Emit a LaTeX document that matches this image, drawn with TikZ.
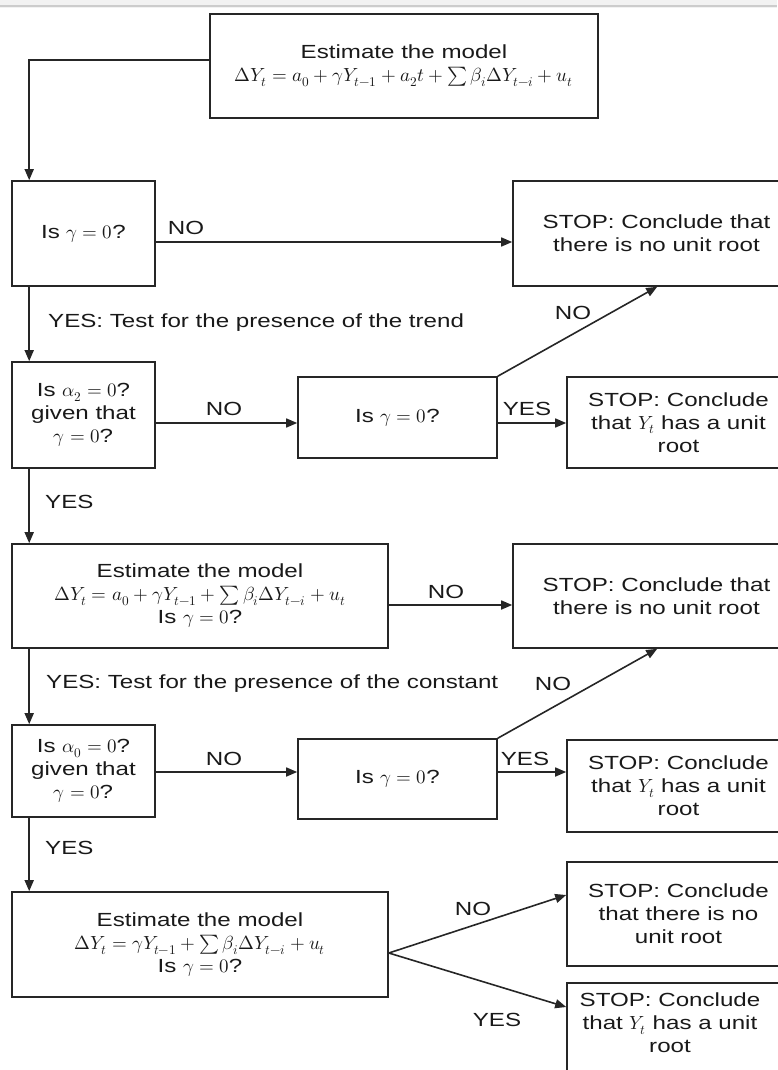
\documentclass[tikz,border=0pt]{standalone}
\usepackage{unicode-math}
\setmainfont{Liberation Sans}[FakeStretch=1.27]
\setmathfont{Latin Modern Math}
\usetikzlibrary{arrows.meta,calc}
\newcommand\dfs{\fontsize{19}{23}\selectfont}
\begin{document}
\begin{tikzpicture}[x=1pt,y=-1pt,
  box/.style={draw=black!85, line width=1.6pt, align=center, inner sep=0pt, font=\dfs, text=black!90},
  arr/.style={line width=1.6pt, draw=black!85, -{Triangle[length=11pt,width=9pt]}},
  lbl/.style={font=\dfs, inner sep=0pt, text=black!90}]
\useasboundingbox (0,0) rectangle (777,1070);
\fill[black!5] (0,0) rectangle (777,8);
\draw[black!20, line width=1.5pt] (0,6) -- (777,6);

% boxes
\node[box, minimum width=388pt, minimum height=104pt] (top) at (404,66)
  {Estimate the model\\ $\Delta Y_t= a_0+\gamma Y_{t-1}+a_2t+\textstyle\sum\beta_i\Delta Y_{t-i}+u_t$};
\node[box, minimum width=143pt, minimum height=105pt] (b1) at (83.5,233.5) {Is $\gamma=0$?};
\node[box, minimum width=287pt, minimum height=105pt] (r1) at (656.5,233.5)
  {STOP: Conclude that\\ there is no unit root};
\node[box, minimum width=143pt, minimum height=106pt] (b2) at (83.5,415)
  {Is $\alpha_2=0$?\\ given that\\ $\gamma=0$?};
\node[box, minimum width=199pt, minimum height=81pt] (m1) at (397.5,417.5) {Is $\gamma=0$?};
\node[box, minimum width=223pt, minimum height=91pt] (r2) at (678.5,422.5)
  {STOP: Conclude\\ that $Y_t$ has a unit\\ root};
\node[box, minimum width=376pt, minimum height=104pt] (b3) at (200,596)
  {Estimate the model\\ $\Delta Y_t= a_0+\gamma Y_{t-1}+\textstyle\sum\beta_i\Delta Y_{t-i}+u_t$\\ Is $\gamma=0$?};
\node[box, minimum width=287pt, minimum height=104pt] (r3) at (656.5,596)
  {STOP: Conclude that\\ there is no unit root};
\node[box, minimum width=143pt, minimum height=92pt] (b4) at (83.5,771)
  {Is $\alpha_0=0$?\\ given that\\ $\gamma=0$?};
\node[box, minimum width=199pt, minimum height=80pt] (m2) at (397.5,779) {Is $\gamma=0$?};
\node[box, minimum width=223pt, minimum height=92pt] (r4) at (678.5,786)
  {STOP: Conclude\\ that $Y_t$ has a unit\\ root};
\node[box, minimum width=376pt, minimum height=105pt] (b5) at (200,944.5)
  {Estimate the model\\ $\Delta Y_t= \gamma Y_{t-1}+\textstyle\sum\beta_i\Delta Y_{t-i}+u_t$\\ Is $\gamma=0$?};
\node[box, minimum width=223pt, minimum height=104pt] (r5) at (678.5,914)
  {STOP: Conclude\\ that there is no\\ unit root};
\node[box, minimum width=223pt, minimum height=117pt] (r6) at (678.5,1041.5) {};
\node[lbl, align=center] (r6t) at (670,1023) {STOP: Conclude\\ that $Y_t$ has a unit\\ root};

% spine
\draw[arr] ([yshift=6pt]top.west) -| ([xshift=18pt]b1.north west);
\draw[arr] ([xshift=18pt]b1.south west) -- ([xshift=18pt]b2.north west);
\draw[arr] ([xshift=18pt]b2.south west) -- ([xshift=18pt]b3.north west);
\draw[arr] ([xshift=18pt]b3.south west) -- ([xshift=18pt]b4.north west);
\draw[arr] ([xshift=18pt]b4.south west) -- ([xshift=18pt]b5.north west);

% horizontal
\draw[arr] (b1.east |- 0,242) -- (r1.west |- 0,242);
\draw[arr] (b2.east |- 0,423) -- (m1.west |- 0,423);
\draw[arr] (m1.east |- 0,423) -- (r2.west |- 0,423);
\draw[arr] (b3.east |- 0,605) -- (r3.west |- 0,605);
\draw[arr] (b4.east |- 0,772) -- (m2.west |- 0,772);
\draw[arr] (m2.east |- 0,772) -- (r4.west |- 0,772);

% diagonals
\draw[arr] (m1.north east) -- ($(r1.south west)+(145,0)$);
\draw[arr] (m2.north east) -- ($(r3.south west)+(145,0)$);
\draw[arr] (b5.east |- 0,953) -- (r5.west |- 0,895);
\draw[arr] (b5.east |- 0,953) -- (r6.west |- 0,1007);

% labels
\node[lbl] (l1) at (186,228) {NO};
\node[lbl, anchor=west] (l2) at (48,323) {YES: Test for the presence of the trend};
\node[lbl] (l3) at (573,313) {NO};
\node[lbl] (l4) at (224,409) {NO};
\node[lbl] (l5) at (527,409) {YES};
\node[lbl, anchor=west] (l6) at (45,502) {YES};
\node[lbl] (l7) at (446,592) {NO};
\node[lbl, anchor=west] (l8) at (46,684) {YES: Test for the presence of the constant};
\node[lbl] (l9) at (553,684) {NO};
\node[lbl] (l10) at (224,759) {NO};
\node[lbl] (l11) at (525,759) {YES};
\node[lbl, anchor=west] (l12) at (45,848) {YES};
\node[lbl] (l13) at (473,909) {NO};
\node[lbl] (l14) at (497,1020) {YES};
\end{tikzpicture}
\end{document}
